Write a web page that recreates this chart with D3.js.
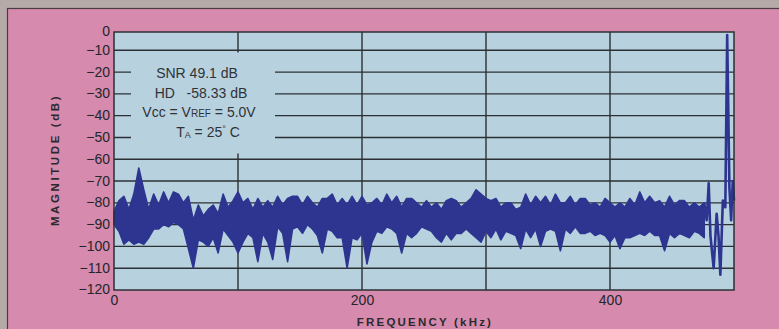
<!DOCTYPE html>
<html>
<head>
<meta charset="utf-8">
<script src="https://cdn.jsdelivr.net/npm/d3@7"></script>
<style>
  html, body { margin: 0; padding: 0; background: #b6aaa8; }
  svg { display: block; }
</style>
</head>
<body>
<div id="chart"></div>
<script>
// noise floor, one sample every 4 kHz (0 .. 476 kHz)
var binStep = 4;
var noiseUpper = [
  -84, -79, -77, -83, -76, -64, -74, -83, -76, -81,
  -75, -80, -75, -76, -80, -77, -88, -81, -86, -83,
  -81, -85, -76, -82, -79, -75, -80, -78, -83, -78,
  -82, -79, -82, -77, -81, -78, -77, -77, -81, -77,
  -80, -82, -78, -78, -76, -81, -78, -81, -77, -81,
  -77, -81, -80, -78, -81, -76, -80, -77, -82, -78,
  -78, -80, -82, -79, -82, -80, -83, -79, -78, -79,
  -82, -80, -78, -74, -76, -78, -79, -78, -82, -80,
  -80, -83, -82, -76, -81, -77, -80, -77, -81, -76,
  -80, -80, -77, -81, -78, -78, -81, -80, -82, -78,
  -80, -82, -80, -82, -78, -81, -75, -80, -77, -80,
  -79, -82, -77, -81, -79, -79, -82, -80, -82, -80
];
var noiseLower = [
  -90, -93, -99, -97, -99, -98, -99, -96, -92, -92,
  -90, -91, -89, -90, -92, -101, -110, -97, -98, -100,
  -96, -103, -92, -95, -98, -103, -98, -94, -96, -107,
  -94, -98, -106, -91, -94, -107, -92, -91, -94, -90,
  -92, -95, -103, -92, -93, -96, -96, -110, -96, -97,
  -94, -108, -98, -93, -94, -91, -92, -94, -103, -94,
  -96, -94, -91, -92, -93, -96, -98, -94, -97, -94,
  -94, -92, -94, -96, -98, -93, -96, -92, -97, -93,
  -94, -95, -101, -92, -96, -92, -100, -93, -92, -93,
  -102, -92, -94, -91, -94, -94, -93, -95, -94, -95,
  -98, -95, -101, -96, -96, -95, -94, -95, -93, -95,
  -95, -102, -94, -96, -94, -95, -96, -93, -94, -96
];

// end of the spectrum with the input tone
var toneFreq = [476, 478, 479.6, 481, 483.6, 486, 487.5, 489, 491, 493, 494.5, 496.3, 497.7, 499, 500];
var toneDb   = [-80, -88, -71, -95, -110, -85, -95, -113, -79, -82, -3, -73, -88, -70, -79];

var yTicks = [0, -10, -20, -30, -40, -50, -60, -70, -80, -90, -100, -110, -120];
var xTicks = [0, 200, 400];
var xGrid = [100, 200, 300, 400];

var notes = ["SNR 49.1 dB", "HD   -58.33 dB"];

var W = 779, H = 329;
var plot = {left: 114, right: 734, top: 32, bottom: 290};
var font = "'Liberation Sans', Arial, sans-serif";

var svg = d3.select("#chart").append("svg")
  .attr("width", W)
  .attr("height", H);

// paper + pink card
svg.append("rect").attr("width", W).attr("height", H).attr("fill", "#b6aaa8");
svg.append("rect")
  .attr("x", 7.5).attr("y", 8.5)
  .attr("width", W).attr("height", H)
  .attr("fill", "#d68aad")
  .attr("stroke", "#4b3c44").attr("stroke-width", 1.2);

var x = d3.scaleLinear().domain([0, 500]).range([plot.left, plot.right]);
var y = d3.scaleLinear().domain([0, -120]).range([28.5, 290]);

// plot area
svg.append("rect")
  .attr("x", plot.left).attr("y", plot.top)
  .attr("width", plot.right - plot.left).attr("height", plot.bottom - plot.top)
  .attr("fill", "#b8d1de");

// grid
svg.append("g").selectAll("line")
  .data(yTicks.filter(function(d) { return d < 0 && d > -120; }))
  .join("line")
  .attr("x1", plot.left).attr("x2", plot.right)
  .attr("y1", function(d) { return y(d); }).attr("y2", function(d) { return y(d); })
  .attr("stroke", "#2b3034").attr("stroke-width", 1.4);

svg.append("g").selectAll("line")
  .data(xGrid)
  .join("line")
  .attr("x1", function(d) { return x(d); }).attr("x2", function(d) { return x(d); })
  .attr("y1", plot.top).attr("y2", plot.bottom)
  .attr("stroke", "#2b3034").attr("stroke-width", 1.4);

// box behind the annotation hides the grid
svg.append("rect")
  .attr("x", 131).attr("y", 52.5)
  .attr("width", 144).attr("height", 101)
  .attr("fill", "#b8d1de");

// noise floor as a filled band between the envelopes
var bins = noiseUpper.map(function(v, i) {
  return {f: i * binStep, hi: v, lo: noiseLower[i]};
});

var band = d3.area()
  .x(function(d) { return x(d.f); })
  .y0(function(d) { return y(d.lo); })
  .y1(function(d) { return y(d.hi); });

svg.append("path")
  .datum(bins)
  .attr("d", band)
  .attr("fill", "#2d3591")
  .attr("stroke", "#2d3591")
  .attr("stroke-width", 1.6)
  .attr("stroke-linejoin", "round");

var tone = toneFreq.map(function(f, i) { return {f: f, db: toneDb[i]}; });
svg.append("path")
  .datum(tone)
  .attr("d", d3.line()
    .x(function(d) { return x(d.f); })
    .y(function(d) { return y(d.db); }))
  .attr("fill", "none")
  .attr("stroke", "#2d3591")
  .attr("stroke-width", 2.6)
  .attr("stroke-linejoin", "round");

// frame
svg.append("rect")
  .attr("x", plot.left).attr("y", plot.top)
  .attr("width", plot.right - plot.left).attr("height", plot.bottom - plot.top)
  .attr("fill", "none")
  .attr("stroke", "#2b3034").attr("stroke-width", 1.5);

// axes (labels only)
var yAxis = svg.append("g")
  .attr("transform", "translate(" + plot.left + ",0)")
  .call(d3.axisLeft(y).tickValues(yTicks).tickSize(0).tickPadding(4));
yAxis.select(".domain").remove();
yAxis.selectAll(".tick")
  .attr("transform", function(d) { return "translate(0," + Math.max(y(d), plot.top) + ")"; });
yAxis.selectAll("text")
  .attr("font-family", font)
  .attr("font-size", 14)
  .attr("fill", "#23262a");

var xAxis = svg.append("g")
  .attr("transform", "translate(0," + plot.bottom + ")")
  .call(d3.axisBottom(x).tickValues(xTicks).tickSize(0).tickPadding(5));
xAxis.select(".domain").remove();
xAxis.selectAll("text")
  .attr("font-family", font)
  .attr("font-size", 14)
  .attr("fill", "#23262a");

// axis titles
svg.append("text")
  .attr("transform", "translate(59,160) rotate(-90)")
  .attr("text-anchor", "middle")
  .attr("font-family", font)
  .attr("font-weight", "bold")
  .attr("font-size", 11.5)
  .attr("letter-spacing", 2.6)
  .attr("fill", "#2a2a2e")
  .text("MAGNITUDE (dB)");

svg.append("text")
  .attr("x", 425).attr("y", 326)
  .attr("text-anchor", "middle")
  .attr("font-family", font)
  .attr("font-weight", "bold")
  .attr("font-size", 11.5)
  .attr("letter-spacing", 2.2)
  .attr("fill", "#2a2a2e")
  .text("FREQUENCY (kHz)");

// annotation
var note = svg.append("g")
  .attr("font-family", font)
  .attr("font-size", 14)
  .attr("fill", "#2f3338");

note.append("text").attr("x", 197).attr("y", 78).attr("text-anchor", "middle")
  .text(notes[0]);
note.append("text").attr("x", 201).attr("y", 98).attr("text-anchor", "middle")
  .style("white-space", "pre").text(notes[1]);

var vline = note.append("text").attr("x", 199).attr("y", 117).attr("text-anchor", "middle");
vline.append("tspan").text("Vcc = V");
vline.append("tspan").attr("font-size", 10).text("REF");
vline.append("tspan").text(" = 5.0V");

var tline = note.append("text").attr("x", 208).attr("y", 137).attr("text-anchor", "middle");
tline.append("tspan").text("T");
tline.append("tspan").attr("font-size", 9).attr("dy", 1).text("A");
tline.append("tspan").attr("dy", -1).text(" = 25");
tline.append("tspan").attr("font-size", 9).attr("dy", -5).text("\u00B0");
tline.append("tspan").attr("dy", 5).text(" C");
</script>
</body>
</html>
